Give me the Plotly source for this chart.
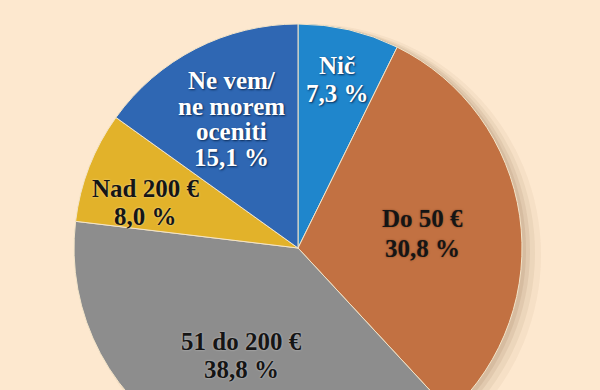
import math
import plotly.graph_objects as go

# ---- data ----
labels = ["Nič", "Do 50 €", "51 do 200 €", "Nad 200 €", "Ne vem/<br>ne morem<br>oceniti"]
values = [7.3, 30.8, 38.8, 8.0, 15.1]
value_text = ["7,3 %", "30,8 %", "38,8 %", "8,0 %", "15,1 %"]

# ---- style ----
colors = ["#1f86cc", "#c27142", "#8d8d8d", "#e2b22a", "#2f67b3"]
text_colors = ["white", "#151515", "#151515", "#151515", "white"]
text_shadows = ["1px 1px 2px #0a2a55", "0px 0px 2px #7a4020", "0px 0px 2px #cccccc",
                "0px 0px 2px #f5e0a0", "1px 1px 2px #0a2a55"]
label_radius = [0.773, 0.558, 0.545, 0.708, 0.647]
label_angle_shift = [0, 1.4, 0.8, -4.7, 0]
line_gap = [28, 30, 28, 28, 25.5]
bg = "#fde8cf"

W, H = 600, 500
CX, CY, R = 298, 248, 224


def dom(cx, cy, r):
    return dict(x=[(cx - r) / W, (cx + r) / W], y=[1 - (cy + r) / H, 1 - (cy - r) / H])


fig = go.Figure()

# soft drop shadow
for dx, dy, dr, a in [(12, 7, 7, 0.05), (9, 5, 4, 0.07), (6, 3, 2, 0.09), (3, 2, 1, 0.10)]:
    fig.add_trace(go.Pie(values=[1], labels=["s"], sort=False, textinfo="none",
                         hoverinfo="skip", showlegend=False,
                         marker=dict(colors=[f"rgba(120,80,40,{a})"], line=dict(width=0)),
                         domain=dom(CX + dx, CY + dy, R + dr)))

fig.add_trace(go.Pie(
    labels=labels, values=values, sort=False, direction="clockwise", rotation=0,
    textinfo="none", hoverinfo="skip", showlegend=False,
    marker=dict(colors=colors, line=dict(color="#f3e4c8", width=1)),
    domain=dom(CX, CY, R),
))

# labels at slice mid angles, one annotation per line for tight leading
total = sum(values)
cum = 0
for lab, v, vt, tc, sh, rf, sh_a, gap in zip(labels, values, value_text, text_colors,
                                             text_shadows, label_radius, label_angle_shift, line_gap):
    mid = (cum + v / 2) / total * 2 * math.pi + math.radians(sh_a)
    cum += v
    px = CX + rf * R * math.sin(mid)
    py = CY - rf * R * math.cos(mid)
    lines = lab.split("<br>") + [vt]
    n = len(lines)
    for i, ln in enumerate(lines):
        ly = py + (i - (n - 1) / 2) * gap
        fig.add_annotation(x=px / W, y=1 - ly / H, xref="paper", yref="paper",
                           text=ln, showarrow=False,
                           font=dict(family="Liberation Serif", size=25, color=tc,
                                     weight="bold", shadow=sh),
                           xanchor="center", yanchor="middle", align="center")

fig.update_layout(width=W, height=H, margin=dict(l=0, r=0, t=0, b=0),
                  paper_bgcolor=bg, plot_bgcolor=bg)

fig.write_html("out.html",
               post_script="document.body.style.overflow='hidden';document.documentElement.style.overflow='hidden';document.body.style.margin='0';")
